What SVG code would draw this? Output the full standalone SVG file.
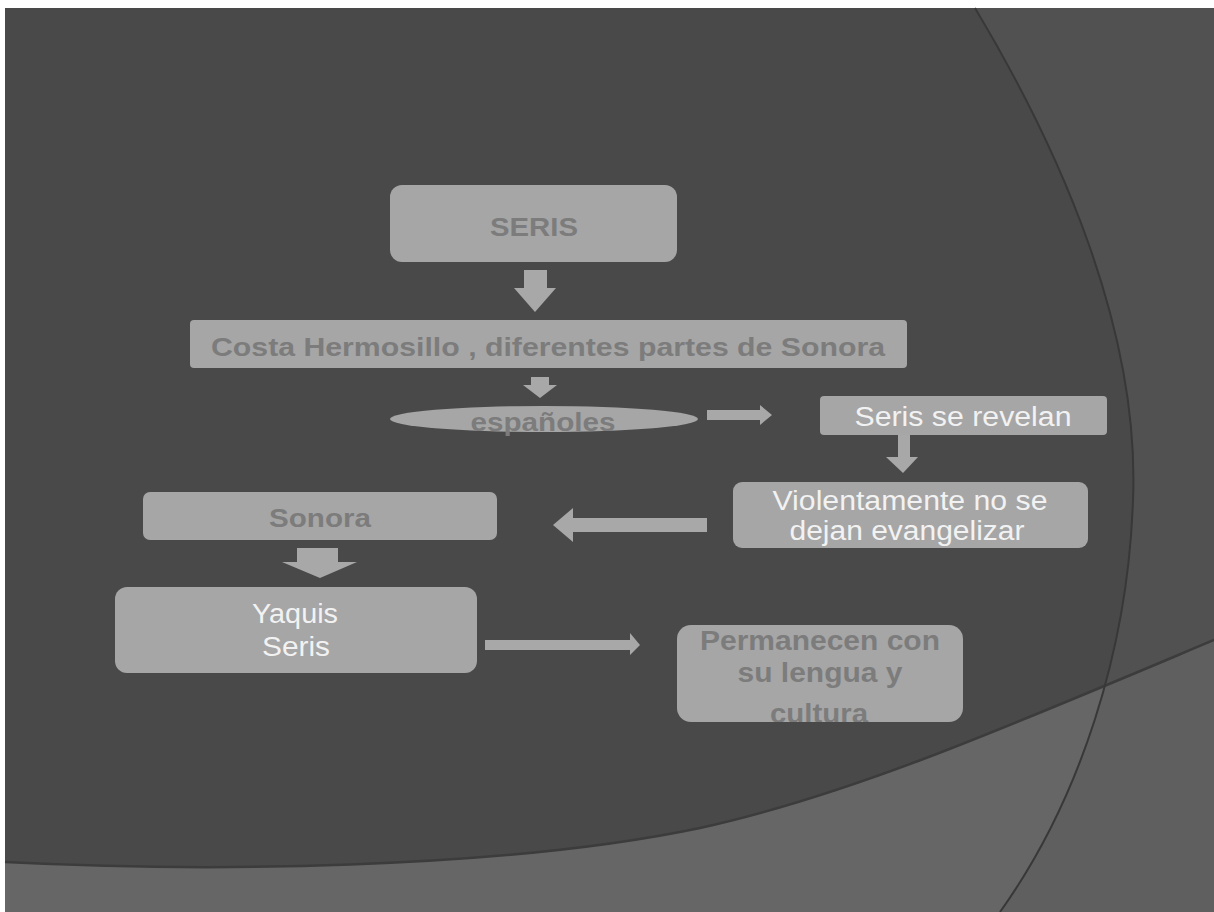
<svg xmlns="http://www.w3.org/2000/svg" width="1214" height="912" viewBox="0 0 1214 912">
<defs>
<style>
.box{fill:#a6a6a6}
.arr{fill:#a8a8a8}
.dk{font-family:"Liberation Sans",Arial,sans-serif;font-weight:bold;fill:#7c7c7c;text-anchor:middle}
.wt{font-family:"Liberation Sans",Arial,sans-serif;fill:#f2f2f2;text-anchor:middle}
</style>
<clipPath id="bottomClip"><path d="M5,862 C200,872 500,870 700,828 C850,795 1000,730 1214,640 L1214,912 L5,912 Z"/></clipPath>
<clipPath id="permClip"><rect x="677" y="625" width="286" height="97" rx="14"/></clipPath>
</defs>
<g id="background">
<rect x="0" y="0" width="1214" height="912" fill="#ffffff"/>
<rect x="5" y="8" width="1209" height="904" fill="#494949"/>
<path d="M975,8 C1060,150 1140,330 1133,500 C1128,650 1080,800 1000,912 L1214,912 L1214,8 Z" fill="#515151"/>
<path d="M5,862 C200,872 500,870 700,828 C850,795 1000,730 1214,640 L1214,912 L5,912 Z" fill="#666666"/>
<path d="M975,8 C1060,150 1140,330 1133,500 C1128,650 1080,800 1000,912 L1214,912 L1214,8 Z" fill="#5f5f5f" clip-path="url(#bottomClip)"/>
<path d="M5,862 C200,872 500,870 700,828 C850,795 1000,730 1214,640" fill="none" stroke="#3c3c3c" stroke-width="2.5"/>
<path d="M975,8 C1060,150 1140,330 1133,500 C1128,650 1080,800 1000,912" fill="none" stroke="#383838" stroke-width="2"/>
</g>
<g id="connectors">
<polygon class="arr" points="524,270 547,270 547,288 556,288 535,312 514,288 524,288"/>
<polygon class="arr" points="531,377 549,377 549,385 557,385 540,398 523,385 531,385"/>
<polygon class="arr" points="707,410 760,410 760,405 772,415 760,425 760,420 707,420"/>
<polygon class="arr" points="898,435 910,435 910,457 918,457 903,473 886,457 898,457"/>
<polygon class="arr" points="707,518 707,532 573,532 573,542 553,525 573,508 573,518"/>
<polygon class="arr" points="297,548 338,548 338,562 357,562 320,578 282,562 297,562"/>
<polygon class="arr" points="485,640 630,640 630,633 640,645 630,655 630,650 485,650"/>
</g>
<g id="node-seris">
<rect class="box" x="390" y="185" width="287" height="77" rx="12"/>
<text class="dk" x="534" y="236" font-size="25" textLength="88" lengthAdjust="spacingAndGlyphs">SERIS</text>
</g>
<g id="node-costa">
<rect class="box" x="190" y="320" width="717" height="48" rx="4"/>
<text class="dk" x="548" y="356" font-size="25" textLength="674" lengthAdjust="spacingAndGlyphs">Costa Hermosillo , diferentes partes de Sonora</text>
</g>
<g id="node-espanoles">
<ellipse class="box" cx="544" cy="419" rx="154" ry="13"/>
<text class="dk" x="543" y="431" font-size="25" textLength="145" lengthAdjust="spacingAndGlyphs">españoles</text>
</g>
<g id="node-revelan">
<rect class="box" x="820" y="396" width="287" height="39" rx="4"/>
<text class="wt" x="963" y="426" font-size="27" textLength="217" lengthAdjust="spacingAndGlyphs">Seris se revelan</text>
</g>
<g id="node-violentamente">
<rect class="box" x="733" y="482" width="355" height="66" rx="9"/>
<text class="wt" x="910" y="510" font-size="27" textLength="275" lengthAdjust="spacingAndGlyphs">Violentamente no se</text>
<text class="wt" x="907" y="540" font-size="27" textLength="235" lengthAdjust="spacingAndGlyphs">dejan evangelizar</text>
</g>
<g id="node-sonora">
<rect class="box" x="143" y="492" width="354" height="48" rx="7"/>
<text class="dk" x="320" y="527" font-size="26" textLength="102" lengthAdjust="spacingAndGlyphs">Sonora</text>
</g>
<g id="node-yaquis">
<rect class="box" x="115" y="587" width="362" height="86" rx="12"/>
<text class="wt" x="295" y="623" font-size="27" textLength="86" lengthAdjust="spacingAndGlyphs">Yaquis</text>
<text class="wt" x="296" y="656" font-size="27" textLength="68" lengthAdjust="spacingAndGlyphs">Seris</text>
</g>
<g id="node-permanecen">
<rect class="box" x="677" y="625" width="286" height="97" rx="14"/>
<g clip-path="url(#permClip)">
<text class="dk" x="820" y="650" font-size="27" textLength="240" lengthAdjust="spacingAndGlyphs">Permanecen con</text>
<text class="dk" x="820" y="682" font-size="27" textLength="165" lengthAdjust="spacingAndGlyphs">su lengua y</text>
<text class="dk" x="819" y="723" font-size="27" textLength="98" lengthAdjust="spacingAndGlyphs">cultura</text>
</g>
</g>
</svg>
